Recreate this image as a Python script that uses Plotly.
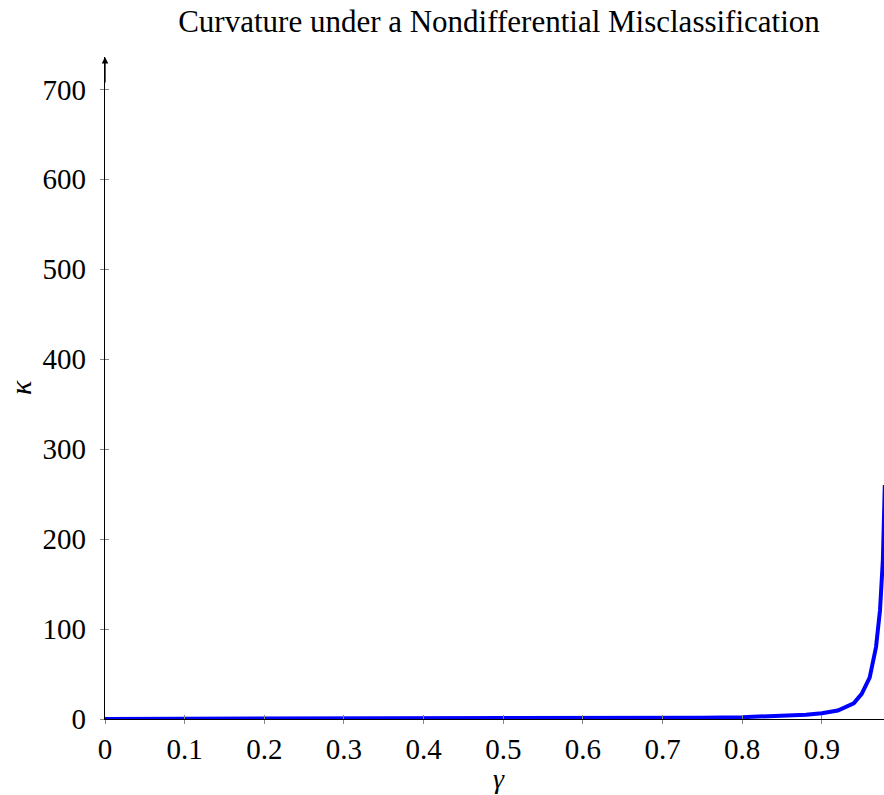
import plotly.graph_objects as go

gamma = [0.0, 0.1, 0.2, 0.3, 0.4, 0.5, 0.6, 0.7, 0.75, 0.8, 0.85, 0.88, 0.9, 0.92, 0.94,
         0.95, 0.96, 0.968, 0.973, 0.9766, 0.979]
kappa = [0.1, 0.15, 0.2, 0.25, 0.35, 0.45, 0.65, 1.0, 1.4, 2.0, 3.2, 4.8, 6.3, 9.5, 17.5,
         28, 46, 80, 121, 177, 260]

x_ticks = [0, 0.1, 0.2, 0.3, 0.4, 0.5, 0.6, 0.7, 0.8, 0.9]
x_tick_text = ["0", "0.1", "0.2", "0.3", "0.4", "0.5", "0.6", "0.7", "0.8", "0.9"]
y_ticks = [0, 100, 200, 300, 400, 500, 600, 700]

FONT = "Liberation Serif"
W, H = 884, 795
L, R, T, B = 105, 0, 57, 76
XR = [0, 0.978]
YR = [0, 736]


def px_x(px):
    return (px - L) / (W - L - R)


def px_y(py):
    return (H - B - py) / (H - T - B)


fig = go.Figure()
fig.add_trace(go.Scatter(x=gamma, y=kappa, mode="lines",
                         line=dict(color="#0000ff", width=4), showlegend=False,
                         hoverinfo="skip"))
# invisible trace for overlay axes (inner half of ticks)
fig.add_trace(go.Scatter(x=[0], y=[0], mode="markers", marker=dict(opacity=0),
                         xaxis="x2", yaxis="y2", showlegend=False, hoverinfo="skip"))

tickcol = "#888888"
fig.update_layout(
    width=W, height=H,
    margin=dict(l=L, r=R, t=T, b=B),
    paper_bgcolor="white", plot_bgcolor="white",
    font=dict(family=FONT, size=29, color="black"),
    title=dict(text="Curvature under a Nondifferential Misclassification",
               x=499 / W, xref="container", xanchor="center",
               y=1 - 21 / H, yref="container", yanchor="middle",
               font=dict(family=FONT, size=31, color="black")),
    xaxis=dict(range=XR, tickvals=x_ticks, ticktext=x_tick_text,
               showgrid=False, zeroline=False, showline=True, linecolor="black",
               linewidth=1.3, ticks="outside", ticklen=4, tickcolor=tickcol,
               tickwidth=1, tickfont=dict(size=29)),
    yaxis=dict(range=YR, tickvals=y_ticks, showgrid=False, zeroline=False,
               showline=True, linecolor="black", linewidth=1.3, ticks="outside",
               ticklen=4, tickcolor=tickcol, tickwidth=1, tickfont=dict(size=29),
               ticklabelstandoff=8),
    xaxis2=dict(range=XR, overlaying="x", tickvals=x_ticks, showticklabels=False,
                showgrid=False, zeroline=False, showline=False, ticks="inside",
                ticklen=4, tickcolor=tickcol, tickwidth=1, side="bottom"),
    yaxis2=dict(range=YR, overlaying="y", tickvals=y_ticks, showticklabels=False,
                showgrid=False, zeroline=False, showline=False, ticks="inside",
                ticklen=4, tickcolor=tickcol, tickwidth=1, side="left"),
    annotations=[
        dict(text="<i>γ</i>", x=px_x(499), y=px_y(779), xref="paper", yref="paper",
             showarrow=False, xanchor="center", yanchor="middle",
             font=dict(family=FONT, size=28)),
        dict(text="<i>κ</i>", x=px_x(20), y=px_y(388), xref="paper", yref="paper",
             showarrow=False, xanchor="center", yanchor="middle", textangle=-90,
             font=dict(family=FONT, size=30)),
        dict(x=0, y=YR[1], ax=0, ay=YR[1] - 30, xref="x", yref="y", axref="x", ayref="y",
             text="", showarrow=True, arrowhead=2, arrowsize=1, arrowwidth=1.3,
             arrowcolor="black", standoff=0),
    ],
)

fig.write_html("out.html")
